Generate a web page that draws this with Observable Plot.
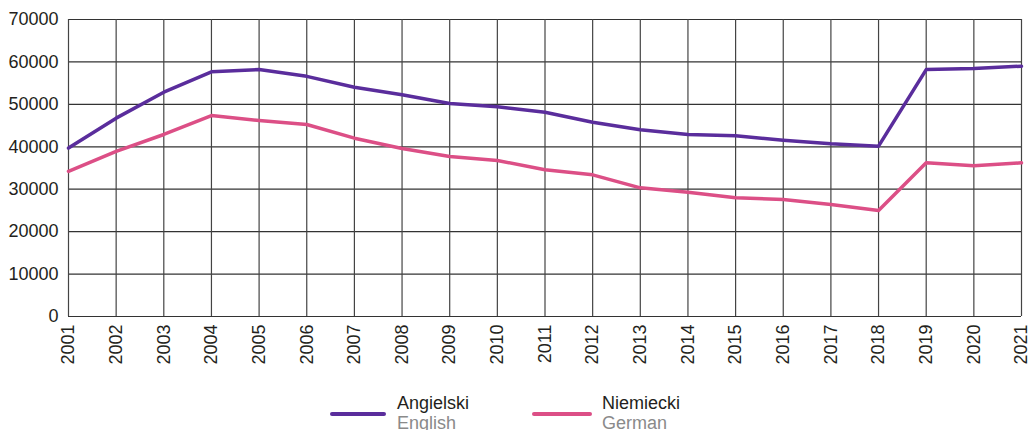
<!DOCTYPE html>
<html>
<head>
<meta charset="utf-8">
<script src="https://cdn.jsdelivr.net/npm/d3@7"></script>
<script src="https://cdn.jsdelivr.net/npm/@observablehq/plot@0.6"></script>
<style>
  html, body { margin: 0; padding: 0; background: #fff; }
  body { width: 1028px; height: 430px; position: relative; overflow: hidden; font-family: "Liberation Sans", Arial, sans-serif; }
  #chart { position: absolute; left: 0; top: 0; }
  #chart svg { overflow: visible; }
  .leg { position: absolute; top: 394px; }
  .sw { position: absolute; height: 4px; top: 18px; border-radius: 2px; }
  .t1 { position: absolute; font-size: 18px; color: #231f20; line-height: 18px; white-space: nowrap; }
  .t2 { position: absolute; font-size: 18px; color: #8a8a8a; line-height: 18px; white-space: nowrap; top: 20px; }
</style>
</head>
<body>
<div id="chart"></div>
<div class="leg" style="left:0">
  <div class="sw" style="left:330px;width:56px;background:#5a2d9c"></div>
  <div class="t1" style="left:397px;top:0">Angielski</div>
  <div class="t2" style="left:397px">English</div>
  <div class="sw" style="left:532px;width:60px;background:#dc4f86"></div>
  <div class="t1" style="left:602px;top:0">Niemiecki</div>
  <div class="t2" style="left:602px">German</div>
</div>
<script>
const years = [2001,2002,2003,2004,2005,2006,2007,2008,2009,2010,2011,2012,2013,2014,2015,2016,2017,2018,2019,2020,2021];
const english = [39700,46750,52860,57670,58200,56600,54040,52250,50200,49420,48150,45800,44000,42900,42590,41550,40700,40140,58200,58450,59000];
const german = [34200,38900,42900,47370,46200,45250,42030,39600,37710,36770,34570,33390,30330,29300,27970,27570,26400,24980,36220,35510,36220];
const yTicks = [0,10000,20000,30000,40000,50000,60000,70000];

const enData = years.map((y, i) => ({year: y, value: english[i]}));
const deData = years.map((y, i) => ({year: y, value: german[i]}));

const chart = Plot.plot({
  width: 1028,
  height: 380,
  marginTop: 19,
  marginBottom: 64,
  marginLeft: 68,
  marginRight: 7,
  style: { fontFamily: "'Liberation Sans', Arial, sans-serif", fontSize: "18px", color: "#231f20", background: "#fff", overflow: "visible" },
  x: { domain: [2001, 2021], label: null },
  y: { domain: [0, 70000], label: null },
  marks: [
    Plot.ruleY(yTicks, { stroke: "#333", strokeWidth: 1.2 }),
    Plot.ruleX(years, { stroke: "#444", strokeWidth: 1.2 }),
    Plot.axisX({ ticks: years, tickFormat: d => String(d), tickRotate: -90, tickSize: 0, tickPadding: 8, fontSize: 18, fill: "#231f20" }),
    Plot.axisY({ ticks: yTicks, tickFormat: d => String(d), tickSize: 0, tickPadding: 10, fontSize: 18, fill: "#231f20" }),
    Plot.line(deData, { x: "year", y: "value", stroke: "#dc4f86", strokeWidth: 3.5 }),
    Plot.line(enData, { x: "year", y: "value", stroke: "#5a2d9c", strokeWidth: 3.5 })
  ]
});
document.getElementById("chart").appendChild(chart);
</script>
</body>
</html>
